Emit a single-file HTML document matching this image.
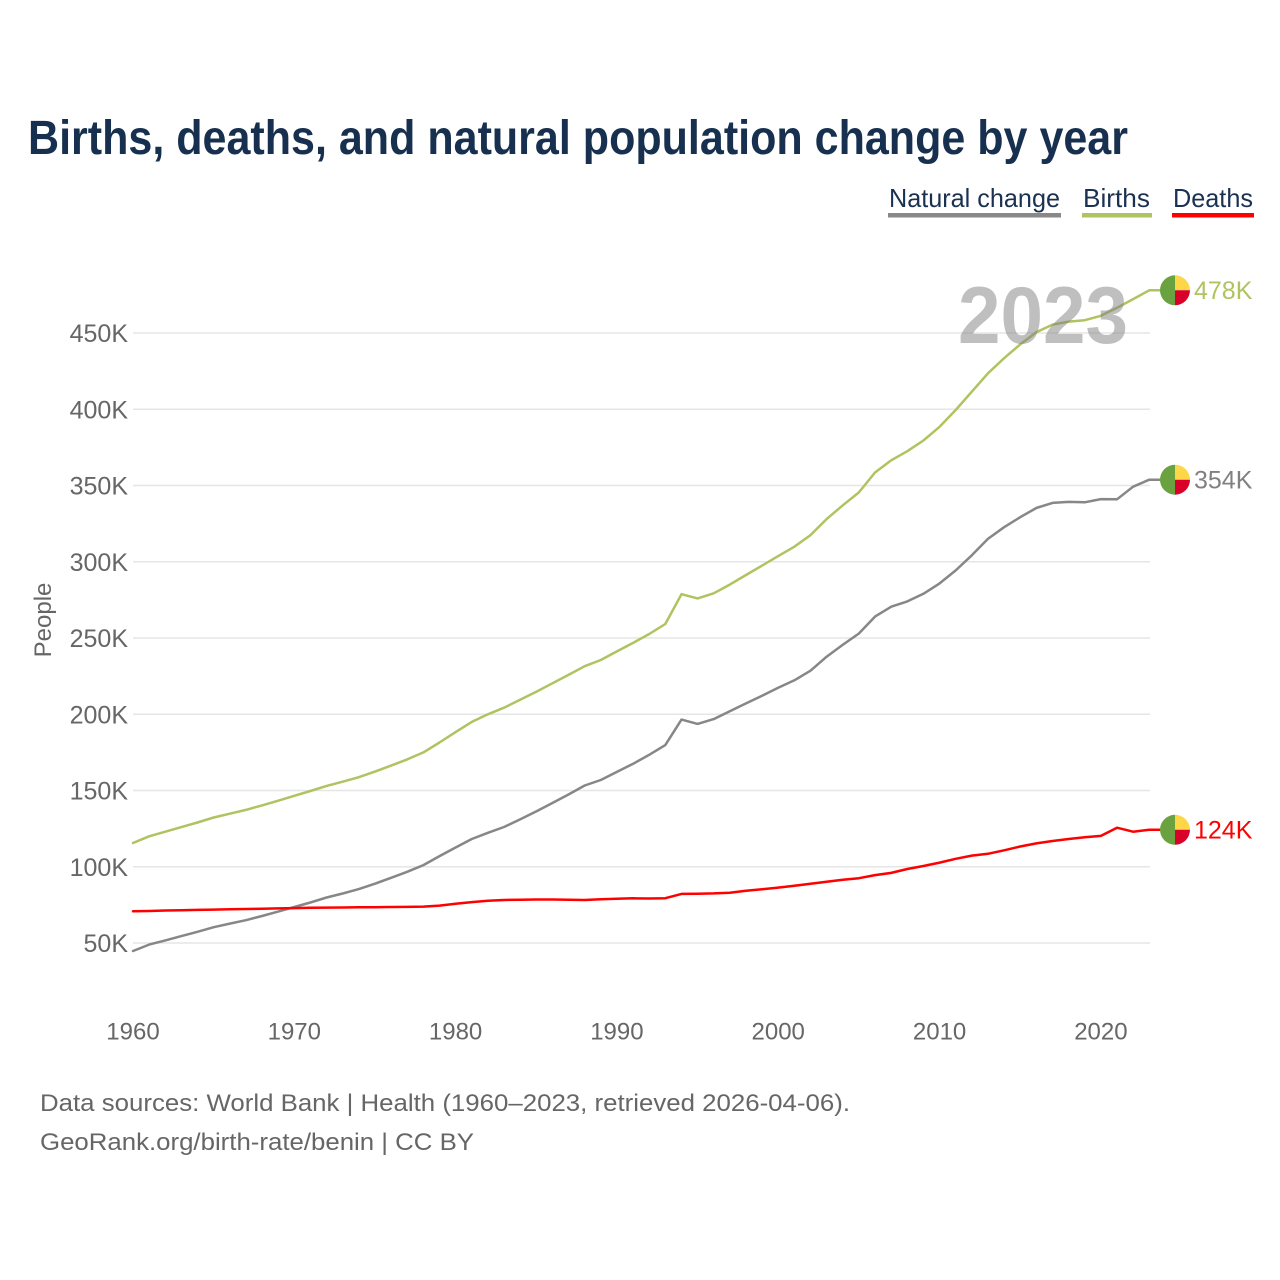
<!DOCTYPE html>
<html>
<head>
<meta charset="utf-8">
<style>
html,body{margin:0;padding:0;background:#fff;}
svg{display:block;font-family:"Liberation Sans",Arial,sans-serif;}
</style>
</head>
<body>
<svg width="1280" height="1280" viewBox="0 0 1280 1280" xmlns="http://www.w3.org/2000/svg">
<rect width="1280" height="1280" fill="#fff"/>

<!-- Title -->
<text x="28" y="154" font-size="48" font-weight="bold" fill="#17304f" textLength="1100" lengthAdjust="spacingAndGlyphs">Births, deaths, and natural population change by year</text>

<!-- Legend -->
<text x="889" y="207" font-size="26" fill="#1b3152" textLength="171" lengthAdjust="spacingAndGlyphs">Natural change</text>
<rect x="888" y="213" width="173" height="4.5" fill="#888888"/>
<text x="1083" y="207" font-size="26" fill="#1b3152" textLength="67" lengthAdjust="spacingAndGlyphs">Births</text>
<rect x="1082" y="213" width="70" height="4.5" fill="#afc360"/>
<text x="1173" y="207" font-size="26" fill="#1b3152" textLength="80" lengthAdjust="spacingAndGlyphs">Deaths</text>
<rect x="1172" y="213" width="82" height="4.5" fill="#ff0000"/>

<!-- Gridlines -->
<g stroke="#e6e6e6" stroke-width="1.5">
<line x1="133" y1="333" x2="1150" y2="333"/>
<line x1="133" y1="409.3" x2="1150" y2="409.3"/>
<line x1="133" y1="485.5" x2="1150" y2="485.5"/>
<line x1="133" y1="561.8" x2="1150" y2="561.8"/>
<line x1="133" y1="638" x2="1150" y2="638"/>
<line x1="133" y1="714.3" x2="1150" y2="714.3"/>
<line x1="133" y1="790.5" x2="1150" y2="790.5"/>
<line x1="133" y1="866.8" x2="1150" y2="866.8"/>
<line x1="133" y1="943" x2="1150" y2="943"/>
</g>

<!-- Y labels -->
<g font-size="25" fill="#666666" text-anchor="end">
<text x="128" y="342">450K</text>
<text x="128" y="418.3">400K</text>
<text x="128" y="494.5">350K</text>
<text x="128" y="570.8">300K</text>
<text x="128" y="647">250K</text>
<text x="128" y="723.3">200K</text>
<text x="128" y="799.5">150K</text>
<text x="128" y="875.8">100K</text>
<text x="128" y="952">50K</text>
</g>
<text transform="translate(51,620) rotate(-90)" font-size="24" fill="#666666" text-anchor="middle">People</text>

<!-- X labels -->
<g font-size="24" fill="#666666" text-anchor="middle">
<text x="133" y="1039.5">1960</text>
<text x="294.3" y="1039.5">1970</text>
<text x="455.6" y="1039.5">1980</text>
<text x="616.9" y="1039.5">1990</text>
<text x="778.2" y="1039.5">2000</text>
<text x="939.6" y="1039.5">2010</text>
<text x="1100.9" y="1039.5">2020</text>
</g>

<!-- Series -->
<g fill="none" stroke-width="2.5" stroke-linejoin="round" stroke-linecap="round">
<polyline stroke="#878787" points="133.0,951.0 149.1,944.6 165.3,940.4 181.4,936.1 197.5,931.8 213.7,927.2 229.8,923.6 245.9,920.2 262.0,916.0 278.2,911.6 294.3,907.0 310.4,902.5 326.6,897.5 342.7,893.5 358.8,889.1 375.0,883.7 391.1,877.8 407.2,871.8 423.4,865.1 439.5,856.1 455.6,847.5 471.8,839.0 487.9,832.8 504.0,827.0 520.1,819.4 536.3,811.4 552.4,803.0 568.5,794.5 584.7,785.5 600.8,780.0 616.9,771.9 633.1,763.8 649.2,754.8 665.3,745.1 681.5,719.6 697.6,723.9 713.7,719.1 729.8,711.2 746.0,703.4 762.1,695.7 778.2,687.7 794.4,680.3 810.5,670.7 826.6,656.7 842.8,644.8 858.9,633.5 875.0,616.6 891.2,606.7 907.3,601.4 923.4,593.8 939.6,583.4 955.7,570.4 971.8,555.3 987.9,538.9 1004.1,527.2 1020.2,517.2 1036.3,508.0 1052.5,502.9 1068.6,501.9 1084.7,502.3 1100.9,499.1 1117.0,499.3 1133.1,486.7 1149.3,479.7 1160,479.7"/>
<polyline stroke="#afc360" points="133.0,843.0 149.1,836.3 165.3,831.7 181.4,827.1 197.5,822.5 213.7,817.5 229.8,813.7 245.9,809.9 262.0,805.4 278.2,800.7 294.3,795.8 310.4,791.0 326.6,785.9 342.7,781.7 358.8,777.2 375.0,771.6 391.1,765.6 407.2,759.4 423.4,752.4 439.5,742.5 455.6,732.1 471.8,721.9 487.9,714.3 504.0,707.7 520.1,699.8 536.3,691.7 552.4,683.3 568.5,674.9 584.7,666.2 600.8,660.0 616.9,651.4 633.1,642.9 649.2,634.0 665.3,624.0 681.5,594.2 697.6,598.4 713.7,593.3 729.8,584.6 746.0,575.0 762.1,565.6 778.2,556.1 794.4,546.7 810.5,535.1 826.6,519.1 842.8,505.3 858.9,492.4 875.0,472.5 891.2,460.3 907.3,451.2 923.4,440.5 939.6,426.8 955.7,410.0 971.8,391.7 987.9,373.4 1004.1,358.2 1020.2,344.4 1036.3,332.2 1052.5,324.6 1068.6,321.6 1084.7,320.2 1100.9,315.8 1117.0,307.8 1133.1,299.1 1149.3,290.3 1160,290.3"/>
<polyline stroke="#ff0000" points="133.0,911.3 149.1,911.0 165.3,910.5 181.4,910.2 197.5,909.9 213.7,909.6 229.8,909.3 245.9,909.0 262.0,908.7 278.2,908.4 294.3,908.1 310.4,907.8 326.6,907.6 342.7,907.5 358.8,907.3 375.0,907.2 391.1,907.0 407.2,906.9 423.4,906.6 439.5,905.6 455.6,903.8 471.8,902.1 487.9,900.8 504.0,900.0 520.1,899.7 536.3,899.5 552.4,899.5 568.5,899.7 584.7,900.0 600.8,899.2 616.9,898.8 633.1,898.3 649.2,898.5 665.3,898.2 681.5,893.9 697.6,893.7 713.7,893.4 729.8,892.7 746.0,890.8 762.1,889.2 778.2,887.6 794.4,885.7 810.5,883.7 826.6,881.7 842.8,879.7 858.9,878.2 875.0,875.1 891.2,872.9 907.3,869.0 923.4,866.0 939.6,862.6 955.7,858.8 971.8,855.6 987.9,853.8 1004.1,850.3 1020.2,846.5 1036.3,843.4 1052.5,841.0 1068.6,839.0 1084.7,837.2 1100.9,835.9 1117.0,827.7 1133.1,831.7 1149.3,829.8 1160,829.8"/>
</g>

<!-- Year watermark -->
<text x="958" y="343" font-size="81" font-weight="bold" fill="#808080" fill-opacity="0.5" textLength="170" lengthAdjust="spacingAndGlyphs">2023</text>

<!-- End markers -->
<g transform="translate(1175,290.3)">
<path d="M0,-15 A15,15 0 0 0 0,15 Z" fill="#6aa23f"/>
<path d="M0,0 L0,-15 A15,15 0 0 1 15,0 Z" fill="#fdd748"/>
<path d="M0,0 L15,0 A15,15 0 0 1 0,15 Z" fill="#d9002a"/>
</g>
<text x="1194" y="299" font-size="25" fill="#afc360">478K</text>

<g transform="translate(1175,479.7)">
<path d="M0,-15 A15,15 0 0 0 0,15 Z" fill="#6aa23f"/>
<path d="M0,0 L0,-15 A15,15 0 0 1 15,0 Z" fill="#fdd748"/>
<path d="M0,0 L15,0 A15,15 0 0 1 0,15 Z" fill="#d9002a"/>
</g>
<text x="1194" y="488.5" font-size="25" fill="#808080">354K</text>

<g transform="translate(1175,829.8)">
<path d="M0,-15 A15,15 0 0 0 0,15 Z" fill="#6aa23f"/>
<path d="M0,0 L0,-15 A15,15 0 0 1 15,0 Z" fill="#fdd748"/>
<path d="M0,0 L15,0 A15,15 0 0 1 0,15 Z" fill="#d9002a"/>
</g>
<text x="1194" y="838.5" font-size="25" fill="#ff0000">124K</text>

<!-- Footer -->
<text x="40" y="1111" font-size="24" fill="#666666" textLength="810" lengthAdjust="spacingAndGlyphs">Data sources: World Bank | Health (1960–2023, retrieved 2026-04-06).</text>
<text x="40" y="1150" font-size="24" fill="#666666" textLength="434" lengthAdjust="spacingAndGlyphs">GeoRank.org/birth-rate/benin | CC BY</text>
</svg>
</body>
</html>
